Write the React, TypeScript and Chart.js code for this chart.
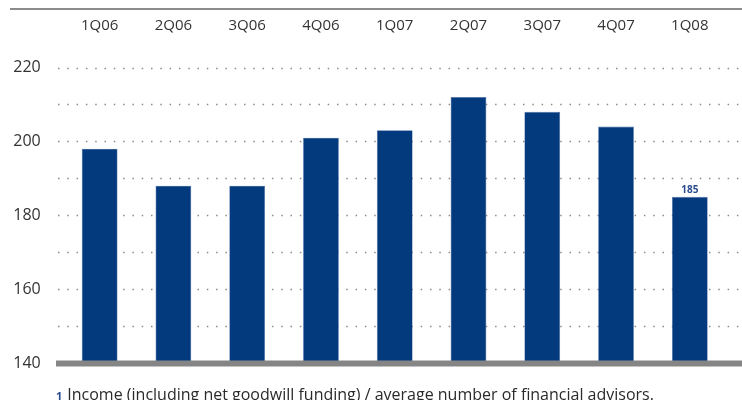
import React, { useEffect, useRef } from "react";
import { Chart, registerables } from "chart.js";

Chart.register(...registerables);

const categories = ["1Q06", "2Q06", "3Q06", "4Q06", "1Q07", "2Q07", "3Q07", "4Q07", "1Q08"];
const values = [198, 188, 188, 201, 203, 212, 208, 204, 185];
const labelledIndex = [8];
const yMin = 140;
const yMax = 220;
const yStep = 10;
const footnoteMark = "1";
const footnoteText = "Income (including net goodwill funding) / average number of financial advisors.";

const FONT = "'Open Sans', 'Noto Sans', sans-serif";
const BAR = "#033a7e";

const decorPlugin = {
  id: "decor",
  beforeDatasetsDraw(chart: any) {
    const { ctx } = chart;
    const y = chart.scales.y;
    ctx.save();
    // top rule
    ctx.strokeStyle = "#8c8c8c";
    ctx.lineWidth = 2;
    ctx.beginPath();
    ctx.moveTo(10, 9);
    ctx.lineTo(742, 9);
    ctx.stroke();
    // dotted grid
    ctx.strokeStyle = "#8a8a8a";
    ctx.lineWidth = 1.4;
    ctx.setLineDash([1.5, 7.8]);
    for (let v = yMin + yStep; v <= yMax; v += yStep) {
      const py = Math.round(y.getPixelForValue(v)) + 0.5;
      ctx.beginPath();
      ctx.moveTo(58, py);
      ctx.lineTo(742, py);
      ctx.stroke();
    }
    ctx.restore();
  },
  afterDatasetsDraw(chart: any) {
    const { ctx } = chart;
    const y = chart.scales.y;
    ctx.save();
    // baseline
    const by = y.getPixelForValue(yMin);
    ctx.fillStyle = "#858585";
    ctx.fillRect(56, by - 2.5, 742 - 56, 6);
    // value label
    const meta = chart.getDatasetMeta(0);
    ctx.fillStyle = "#2a4a90";
    ctx.font = `bold 10px ${FONT}`;
    ctx.textAlign = "center";
    ctx.textBaseline = "middle";
    labelledIndex.forEach((i) => {
      const el = meta.data[i];
      ctx.fillText(String(values[i]), el.x, el.y - 7);
    });
    ctx.restore();
  },
};

export default function App() {
  const ref = useRef<HTMLCanvasElement>(null);
  useEffect(() => {
    const chart = new Chart(ref.current!, {
      type: "bar",
      data: {
        labels: categories,
        datasets: [
          {
            data: values,
            backgroundColor: BAR,
            borderColor: "#4b6fa8",
            borderWidth: 0.6,
            barPercentage: 0.485,
            categoryPercentage: 1,
          },
        ],
      },
      options: {
        animation: false,
        responsive: false,
        layout: { padding: { left: 0, right: 8.75, top: 0, bottom: 37 } },
        plugins: { legend: { display: false }, tooltip: { enabled: false } },
        scales: {
          x: {
            position: "top",
            grid: { display: false, drawTicks: false },
            border: { display: false },
            ticks: { color: "#333333", font: { family: FONT, size: 15 }, padding: 33 },
            afterFit: (s: any) => {
              s.height = 67.5;
            },
          },
          y: {
            min: yMin,
            max: yMax,
            grid: { display: false, drawTicks: false },
            border: { display: false },
            ticks: {
              stepSize: yStep,
              color: "#333333",
              font: { family: FONT, size: 16 },
              padding: 22,
              callback: (v: any) => (Number(v) % 20 === 0 ? String(v) : ""),
            },
            afterFit: (s: any) => {
              s.width = 62.75;
            },
          },
        },
      },
      plugins: [decorPlugin],
    });
    return () => chart.destroy();
  }, []);
  return (
    <div style={{ position: "fixed", left: 0, top: 0, width: 742, height: 400, background: "#fff", overflow: "hidden" }}>
      <canvas ref={ref} width={742} height={400} style={{ display: "block" }} />
      <div
        style={{
          position: "absolute",
          left: 56,
          top: 384,
          fontFamily: FONT,
          fontSize: 16,
          color: "#2a2a2a",
          whiteSpace: "nowrap",
          lineHeight: "20px",
        }}
      >
        <span style={{ color: "#2a4a90", fontSize: 11, fontWeight: "bold", marginRight: 5 }}>{footnoteMark}</span>
        {footnoteText}
      </div>
    </div>
  );
}
